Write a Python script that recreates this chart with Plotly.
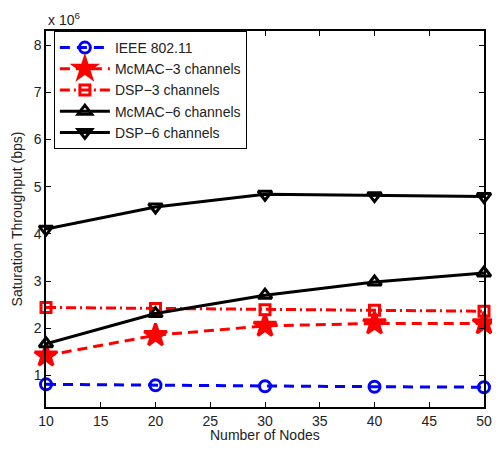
import plotly.graph_objects as go

nodes = [10, 20, 30, 40, 50]
ieee = [0.81, 0.79, 0.77, 0.76, 0.75]
mcmac3 = [1.42, 1.85, 2.05, 2.10, 2.10]
dsp3 = [2.44, 2.42, 2.39, 2.38, 2.36]
mcmac6 = [1.67, 2.31, 2.70, 2.98, 3.17]
dsp6 = [4.10, 4.57, 4.84, 4.81, 4.79]

x_ticks = [10, 15, 20, 25, 30, 35, 40, 45, 50]
y_ticks = [1, 2, 3, 4, 5, 6, 7, 8]

series = [
    ("IEEE 802.11", ieee, "blue", "10px,7px", "circle-open", 11),
    ("McMAC\u22123 channels", mcmac3, "red", "10px,6px", "star", 17),
    ("DSP\u22123 channels", dsp3, "red", "10px,4px,2px,4px", "square-open", 10),
    ("McMAC\u22126 channels", mcmac6, "black", "solid", "triangle-up-open", 12),
    ("DSP\u22126 channels", dsp6, "black", "solid", "triangle-down-open", 12),
]

fig = go.Figure()
for name, vals, col, dash, sym, sz in series:
    fig.add_trace(go.Scatter(
        x=nodes, y=vals, name=name, mode="lines+markers",
        line=dict(color=col, width=3, dash=dash),
        marker=dict(symbol=sym, size=sz, color=col, line=dict(color=col, width=3)),
        cliponaxis=False,
    ))

txt = "#222"
font = dict(family="Liberation Sans, Arial, sans-serif", size=14, color=txt)
# The page body has an 8px margin, so the figure is sized to fit the 500x449 window.
fig.update_layout(
    width=484, height=433,
    margin=dict(l=38, r=0, t=23, b=34),
    paper_bgcolor="white", plot_bgcolor="white",
    font=font,
    showlegend=True,
    legend=dict(x=0.018, y=1.0, xanchor="left", yanchor="top",
                bordercolor="black", borderwidth=1, bgcolor="white",
                font=dict(size=14, color=txt), tracegroupgap=0,
                itemwidth=50),
    xaxis=dict(range=[10, 50], tickvals=x_ticks, ticks="inside", ticklen=5,
               tickcolor="black", ticklabeloverflow="allow",
               showline=True, linecolor="black", linewidth=1.5, mirror="allticks",
               showgrid=False, zeroline=False),
    yaxis=dict(range=[0.33, 8.3], tickvals=y_ticks, ticks="inside", ticklen=5,
               tickcolor="black",
               showline=True, linecolor="black", linewidth=1.5, mirror="allticks",
               showgrid=False, zeroline=False,
               title=dict(text="Saturation Throughput (bps)", standoff=8, font=dict(size=14))),
    annotations=[
        dict(text="x 10<sup>6</sup>", xref="paper", yref="paper",
             x=0.0, y=1.0, xanchor="left", yanchor="bottom",
             showarrow=False, font=dict(size=14, color=txt), yshift=1),
        dict(text="Number of Nodes", xref="paper", yref="paper",
             x=0.5, y=0.0, xanchor="center", yanchor="middle", borderpad=0,
             showarrow=False, font=dict(size=14, color=txt), yshift=-28),
    ],
)

fig.write_html("out.html", config={"displayModeBar": False})
